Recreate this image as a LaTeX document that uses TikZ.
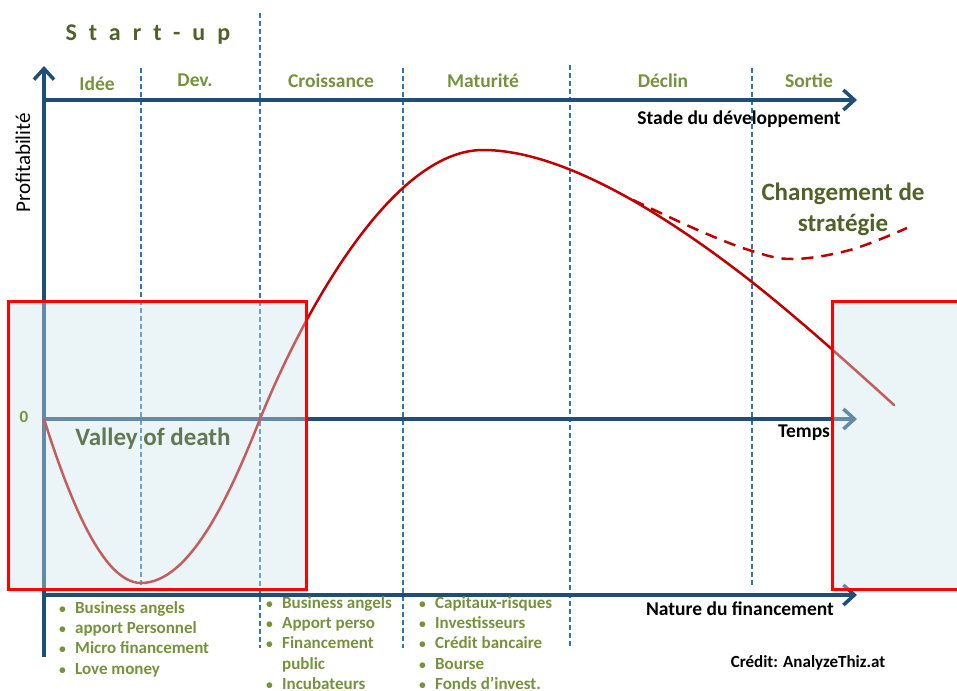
\documentclass[tikz,border=0pt]{standalone}
\usepackage{fontspec}
\setmainfont{Carlito}
\usetikzlibrary{arrows.meta}

\definecolor{axecol}{RGB}{31,78,121}
\definecolor{pointille}{RGB}{46,117,182}
\definecolor{olive}{RGB}{118,146,60}
\definecolor{vertfonce}{RGB}{79,98,40}
\definecolor{vallee}{RGB}{98,120,82}
\definecolor{courbecol}{RGB}{192,0,0}
\definecolor{zonecol}{RGB}{205,230,236}

% puce de liste et retrait
\newcommand{\puce}{\makebox[17pt][l]{\hspace{1pt}\scalebox{0.8}{\textbullet}}}
\newcommand{\suite}{\hspace*{17pt}}

\tikzset{
  phase/.style={text=olive, font=\fontsize{19.5}{22}\selectfont\bfseries},
  titre/.style={text=black, font=\fontsize{19.5}{22}\selectfont\bfseries},
  liste/.style={text=olive, font=\fontsize{17}{20.3}\selectfont\bfseries, align=left, anchor=north west, inner sep=0pt},
  axe/.style={draw=axecol, line width=4pt, -{Straight Barb[length=11pt,width=20pt,line width=3.5pt]}},
  limite/.style={draw=pointille, line width=1.5pt, dash pattern=on 5pt off 3pt},
  courbe/.style={draw=courbecol, line width=2.5pt, line cap=round},
  zone/.style={fill=zonecol, fill opacity=0.4, draw=red, draw opacity=1, line width=3pt}
}

\begin{document}
\begin{tikzpicture}[x=1pt, y=-1pt]
    \useasboundingbox (0,0) rectangle (957,690);
    \clip (0,0) rectangle (957,690);

    % limites des phases
    \draw[limite] (141,68) -- (141,590);
    \draw[limite] (260,13) -- (260,648);
    \draw[limite] (403,68) -- (403,648);
    \draw[limite] (570,65) -- (570,648);
    \draw[limite] (752,68) -- (752,585);

    % axes
    \draw[axe] (44,657) -- (44,66);
    \draw[axe] (44,100) -- (857,100);
    \draw[axe] (44,419) -- (857,419);
    \draw[axe] (44,595) -- (857,595);

    % courbe de profitabilite
    \draw[courbe] (44,419) .. controls (68,495) and (102,583) .. (141,583)
        .. controls (190,583) and (230,495) .. (260,419)
        .. controls (300,320) and (390,150) .. (483,150)
        .. controls (560,150) and (660,210) .. (752,282)
        .. controls (800,320) and (850,365) .. (894,405);
    \draw[courbe, line cap=butt, dash pattern=on 12pt off 8pt] plot[smooth, tension=0.6] coordinates {(633,200) (700,231) (752,251) (793,259) (850,250) (907,228)};

    % zones critiques
    \draw[zone] (8,301) rectangle (306,589);
    \draw[zone] (832,301) rectangle (965,589);

    % textes
    \node[anchor=west, text=vertfonce, font=\fontsize{24}{26}\selectfont\bfseries\addfontfeature{LetterSpace=50}] (startup) at (62,35) {Start-up};
    \node[phase] (idee) at (97,84) {Idée};
    \node[phase] (dev) at (195,80) {Dev.};
    \node[phase] (croissance) at (331,81) {Croissance};
    \node[phase] (maturite) at (483,81) {Maturité};
    \node[phase] (declin) at (663,81) {Déclin};
    \node[phase] (sortie) at (809,81) {Sortie};
    \node[titre] (stade) at (739,119) {Stade du développement};
    \node[titre, rotate=90, font=\fontsize{21}{24}\selectfont] (profit) at (23,163) {Profitabilité};
    \node[phase, font=\fontsize{17}{20}\selectfont\bfseries] (zero) at (24,417) {0};
    \node[text=vallee, font=\fontsize{25}{28}\selectfont\bfseries] (vallee) at (153,439) {Valley of death};
    \node[titre] (temps) at (804,433) {Temps};
    \node[text=vertfonce, font=\fontsize{25}{31}\selectfont\bfseries, align=center] (strategie) at (843,209) {Changement de\\stratégie};
    \node[titre] (nature) at (740,609) {Nature du financement};
    \node[titre, font=\fontsize{17}{20}\selectfont\bfseries] (credit) at (808,663) {Crédit: AnalyzeThiz.at};

    % sources de financement
    \node[liste] (fin1) at (58,601) {\puce Business angels\\ \puce apport Personnel\\ \puce Micro financement\\ \puce Love money};
    \node[liste] (fin2) at (265,596) {\puce Business angels\\ \puce Apport perso\\ \puce Financement\\ \suite public\\ \puce Incubateurs};
    \node[liste] (fin3) at (418,596) {\puce Capitaux-risques\\ \puce Investisseurs\\ \puce Crédit bancaire\\ \puce Bourse\\ \puce Fonds d’invest.};
\end{tikzpicture}
\end{document}
